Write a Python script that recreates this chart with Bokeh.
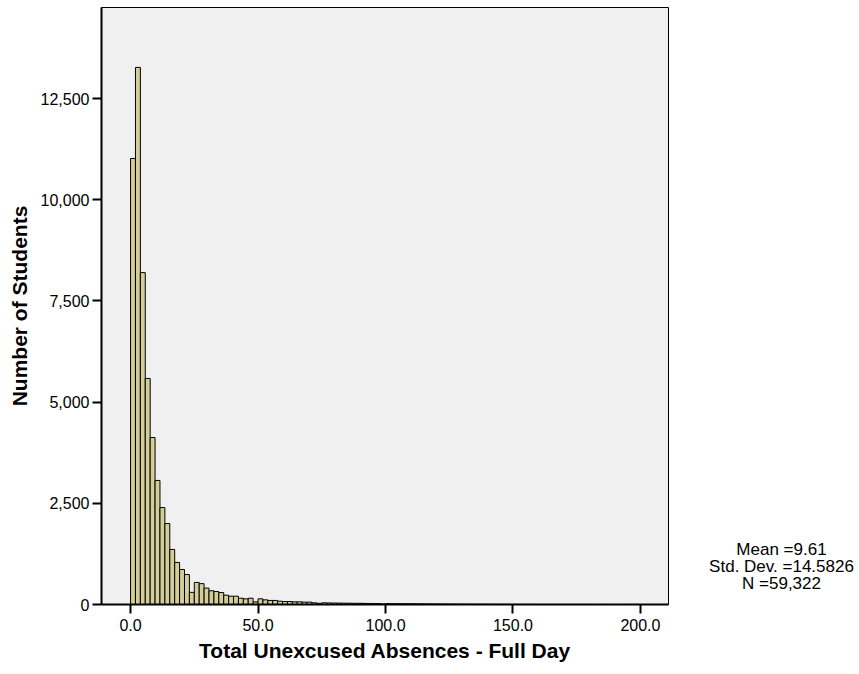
from bokeh.plotting import figure
from bokeh.layouts import row
from bokeh.models import Range1d, NumeralTickFormatter, FixedTicker
from bokeh.core.properties import value
from bokeh.embed import file_html
from bokeh.resources import INLINE

# ---- data ----
bin_width = 25 / 13
counts = [
    11020, 13270, 8200, 5585, 4125, 3065, 2395, 2000, 1360, 1040, 865, 740, 300,
    545, 515, 405, 340, 320, 295, 230, 205, 205, 155, 140, 155, 65,
    140, 115, 100, 100, 82, 74, 74, 66, 66, 58, 58, 41, 30, 41,
    38, 36, 35, 33, 32, 30, 30, 28, 26, 25, 24,
    14, 22, 21, 20, 19, 18, 17, 16, 15,
    14, 13, 12, 11, 10, 10, 9, 8, 8, 7,
    6, 6, 5, 5, 4, 4, 3, 3, 3,
    2, 2, 2, 1, 1, 1, 1, 1, 1, 1, 1, 0, 1, 0, 1, 0, 0, 1, 0, 0, 0, 0, 1, 0, 1,
]
x_ticks = [0, 50, 100, 150, 200]
y_ticks = [0, 2500, 5000, 7500, 10000, 12500]
stats_lines = ["Mean =9.61", "Std. Dev. =14.5826", "N =59,322"]
x_title = "Total Unexcused Absences - Full Day"
y_title = "Number of Students"

left = [i * bin_width for i in range(len(counts))]
right = [l + bin_width for l in left]

FONT = "Liberation Sans"

p = figure(width=669, height=674, output_backend="svg", toolbar_location=None,
           x_range=Range1d(-11.4, 211), y_range=Range1d(0, 14750),
           min_border_left=101, min_border_right=1, min_border_top=7,
           min_border_bottom=70)

p.background_fill_color = "#F0F0F0"
p.border_fill_color = "white"
p.outline_line_color = "black"
p.outline_line_width = 1
p.grid.visible = False

p.quad(left=left, right=right, bottom=0, top=counts,
       fill_color="#D3CE98", line_color="black", line_width=1)

for ax in (p.xaxis[0], p.yaxis[0]):
    ax.axis_line_color = "black"
    ax.axis_line_width = 2
    ax.major_tick_line_color = "black"
    ax.major_tick_line_width = 2
    ax.major_tick_out = 9
    ax.major_tick_in = 0
    ax.minor_tick_line_color = None
    ax.major_label_text_font = FONT
    ax.major_label_text_font_size = "16px"
    ax.major_label_text_color = "black"
    ax.axis_label_text_font = FONT
    ax.axis_label_text_font_style = "bold"
    ax.axis_label_text_color = "black"

p.xaxis.ticker = FixedTicker(ticks=x_ticks)
p.xaxis.formatter = NumeralTickFormatter(format="0.0")
p.xaxis.major_label_standoff = 5
p.xaxis.axis_label = x_title
p.xaxis.axis_label_text_font_size = "21px"
p.xaxis.axis_label_standoff = 5

p.yaxis.ticker = FixedTicker(ticks=y_ticks)
p.yaxis.formatter = NumeralTickFormatter(format="0,0")
p.yaxis.major_label_standoff = 3
p.yaxis.axis_label = y_title
p.yaxis.axis_label_text_font_size = "21px"
p.yaxis.axis_label_standoff = 7

# side panel holding the summary statistics; units = pixels above frame bottom
side = figure(width=190, height=674, output_backend="svg", toolbar_location=None,
              x_range=Range1d(0, 190), y_range=Range1d(0, 597),
              min_border_left=0, min_border_right=0, min_border_top=7,
              min_border_bottom=70)
side.axis.visible = False
side.grid.visible = False
side.outline_line_color = None
side.background_fill_color = "white"
side.border_fill_color = "white"
side.text(x=[112, 112, 112], y=[55, 38, 21], text=stats_lines,
          text_align="center", text_baseline="middle",
          text_font=value(FONT), text_font_size="17px", text_color="black")

layout = row(p, side, spacing=0)
open("out.html", "w").write(file_html(layout, INLINE))
